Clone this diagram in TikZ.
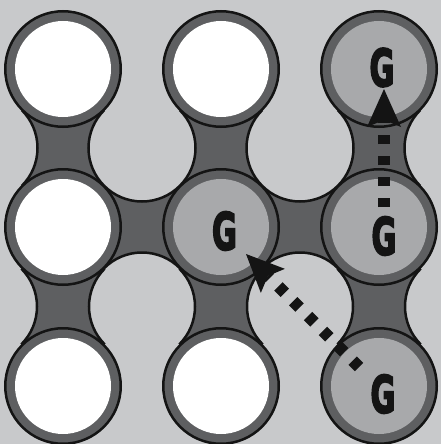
\documentclass[tikz,border=0pt]{standalone}
\usepackage{fontspec}
\usepackage{graphicx}
\usetikzlibrary{calc,arrows.meta}
\newfontfamily\gfont{DejaVu Sans}[BoldFeatures={FakeBold=4}]
\definecolor{bgc}{HTML}{C8C9CB}
\definecolor{ringc}{HTML}{5E5F61}
\definecolor{gfillc}{HTML}{A8A9AB}
\tikzset{
  outline/.style={draw=black!92, line width=2.5pt},
  ringnode/.style={circle, outline, fill=ringc, minimum size=115.5pt, inner sep=0pt},
  gletter/.style={inner sep=0pt, text=black!92},
  flow/.style={draw=black!92, line width=12pt, dash pattern=on 9pt off 12pt,
    -{Stealth[length=38pt, width=34pt, inset=7pt, line width=0pt]}}
}
\newcommand{\Gmark}{\resizebox{25pt}{38pt}{\gfont\bfseries G}}
\begin{document}
\begin{tikzpicture}[x=1pt, y=-1pt]
\useasboundingbox (0,0) rectangle (441,444);
\fill[bgc] (0,0) rectangle (441,444);
% grid centres
\coordinate (c00) at (63,69);  \coordinate (c10) at (221,69);  \coordinate (c20) at (379,69);
\coordinate (c01) at (63,227); \coordinate (c11) at (221,227); \coordinate (c21) at (379,227);
\coordinate (c02) at (63,386); \coordinate (c12) at (221,386); \coordinate (c22) at (379,386);
% bridges
\foreach \a/\b in {c00/c01, c01/c02, c10/c11, c11/c12, c20/c21, c21/c22, c01/c11, c11/c21}{
  \coordinate (m) at ($(\a)!0.5!(\b)$);
  \coordinate (h1) at ($(m)!1!90:(\b)$);
  \coordinate (h2) at ($(m)!1!-90:(\b)$);
  \begin{scope}
    \clip (\a) -- (h1) -- (\b) -- (h2) -- cycle;
    \fill[ringc, even odd rule] ($(m)+(-150,-150)$) rectangle ($(m)+(150,150)$)
      (h1) circle[radius=53.5pt] (h2) circle[radius=53.5pt];
    \draw[outline] (h1) circle[radius=53.5pt] (h2) circle[radius=53.5pt];
  \end{scope}
}
% nodes
\foreach \c in {c00,c10,c20,c01,c11,c21,c02,c12,c22}{
  \node[ringnode] (n\c) at (\c) {};
}
\foreach \c in {c00,c10,c01,c02,c12}{
  \fill[white] (\c) circle[radius=48pt];
}
\foreach \c in {c20,c11,c21,c22}{
  \fill[gfillc] (\c) circle[radius=48pt];
}
% letters
\node[gletter] (g20) at ($(c20)+(3,-1.5)$) {\Gmark};
\node[gletter] (g11) at ($(c11)+(3.5,4)$) {\Gmark};
\node[gletter] (g21) at ($(c21)+(5,9)$) {\Gmark};
\node[gletter] (g22) at ($(c22)+(4,8)$) {\Gmark};
% arrows
\coordinate (t1) at (359,367); \coordinate (e1) at (246,254);
\coordinate (t2) at (384,207); \coordinate (e2) at (384,89);
\draw[flow] (t1) -- (e1);
\draw[flow] (t2) -- (e2);
\end{tikzpicture}
\end{document}
